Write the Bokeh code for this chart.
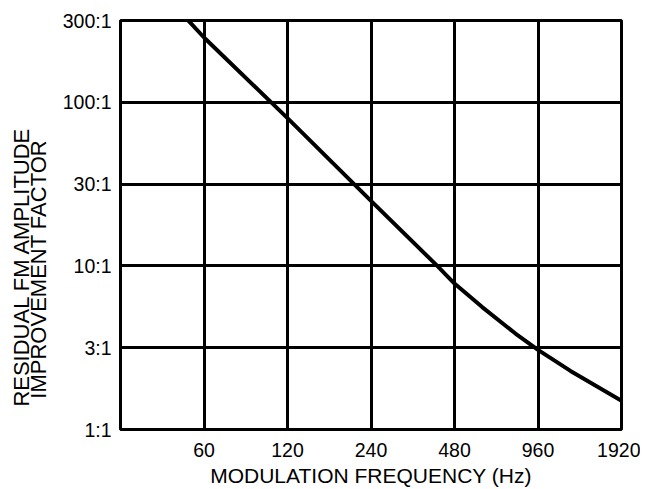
import math
from bokeh.plotting import figure
from bokeh.layouts import row
from bokeh.models import FixedTicker, CustomJSTickFormatter, Range1d
from bokeh.core.properties import value
from bokeh.embed import file_html
from bokeh.resources import INLINE

# Curve (modulation frequency in Hz, improvement factor)
freq_hz = [52.7, 60, 120, 240, 416, 480, 604, 796, 960, 1257, 1920]
improvement = [316, 249, 80, 25, 10, 7.8, 5.6, 3.86, 3.07, 2.28, 1.50]

x_ticks = [60, 120, 240, 480, 960, 1920]
y_tick_labels = ["1:1", "3:1", "10:1", "30:1", "100:1", "300:1"]
# grid is evenly spaced: each step is half a decade
y_ticks = [10 ** (k / 2) for k in range(len(y_tick_labels))]

x_title = "MODULATION FREQUENCY (Hz)"
y_titles = ["RESIDUAL FM AMPLITUDE", "IMPROVEMENT FACTOR"]

FONT = "Liberation Sans"
H = 489
SIDE_W = 56
TOP, BOTTOM = 20, 431      # frame top / bottom in pixels

# ---- main chart ----
p = figure(width=640 - SIDE_W, height=H,
           x_axis_type="log", y_axis_type="log",
           x_range=Range1d(30, 1920), y_range=Range1d(1, y_ticks[-1]),
           output_backend="svg", toolbar_location=None,
           min_border_left=120 - SIDE_W, min_border_right=19,
           min_border_top=TOP, min_border_bottom=H - BOTTOM)

p.background_fill_color = "white"
p.border_fill_color = "white"
p.outline_line_color = "black"
p.outline_line_width = 3
p.outline_line_alpha = 1

xt = FixedTicker(ticks=x_ticks)
yt = FixedTicker(ticks=y_ticks)
p.xaxis.ticker = xt
p.yaxis.ticker = yt
p.xgrid.ticker = xt
p.ygrid.ticker = yt

p.xaxis.formatter = CustomJSTickFormatter(code="return tick.toFixed(0);")
p.yaxis.formatter = CustomJSTickFormatter(
    args=dict(labels=y_tick_labels),
    code="return labels[Math.round(2*Math.log10(tick))];")

for ax in p.axis:
    ax.axis_line_color = None
    ax.major_tick_line_color = None
    ax.minor_tick_line_color = None
    ax.major_tick_out = 0
    ax.major_tick_in = 0
    ax.major_label_text_font = FONT
    ax.major_label_text_font_size = "19.5px"
    ax.major_label_text_color = "black"
p.xaxis.major_label_standoff = 13
p.yaxis.major_label_standoff = 9

p.xaxis.axis_label = x_title
p.xaxis.axis_label_standoff = 4
p.xaxis.axis_label_text_font = FONT
p.xaxis.axis_label_text_font_size = "21px"
p.xaxis.axis_label_text_font_style = "normal"
p.xaxis.axis_label_text_color = "black"

p.grid.grid_line_color = "black"
p.grid.grid_line_width = 3
p.grid.grid_line_alpha = 1

p.line(freq_hz, improvement, line_width=4, color="black", line_join="round")

# ---- side panel holding the two-line y-axis title ----
# its frame matches the main frame vertically; y range is in page pixels
side = figure(width=SIDE_W, height=H,
              x_range=Range1d(0, SIDE_W), y_range=Range1d(BOTTOM, TOP),
              output_backend="svg", toolbar_location=None,
              x_axis_location=None, y_axis_location=None,
              min_border_left=0, min_border_right=0,
              min_border_top=TOP, min_border_bottom=H - BOTTOM)
side.outline_line_color = None
side.grid.visible = False
side.background_fill_color = "white"
side.border_fill_color = "white"
# anchored at the start (bottom) of each rotated line
side.text(x=[21, 38], y=[408, 400], text=y_titles, angle=math.pi / 2,
          text_align="left", text_baseline="middle",
          text_font=value(FONT), text_font_size="22px", text_color="black")

layout = row(side, p, spacing=0)
open("out.html", "w").write(file_html(layout, INLINE))
